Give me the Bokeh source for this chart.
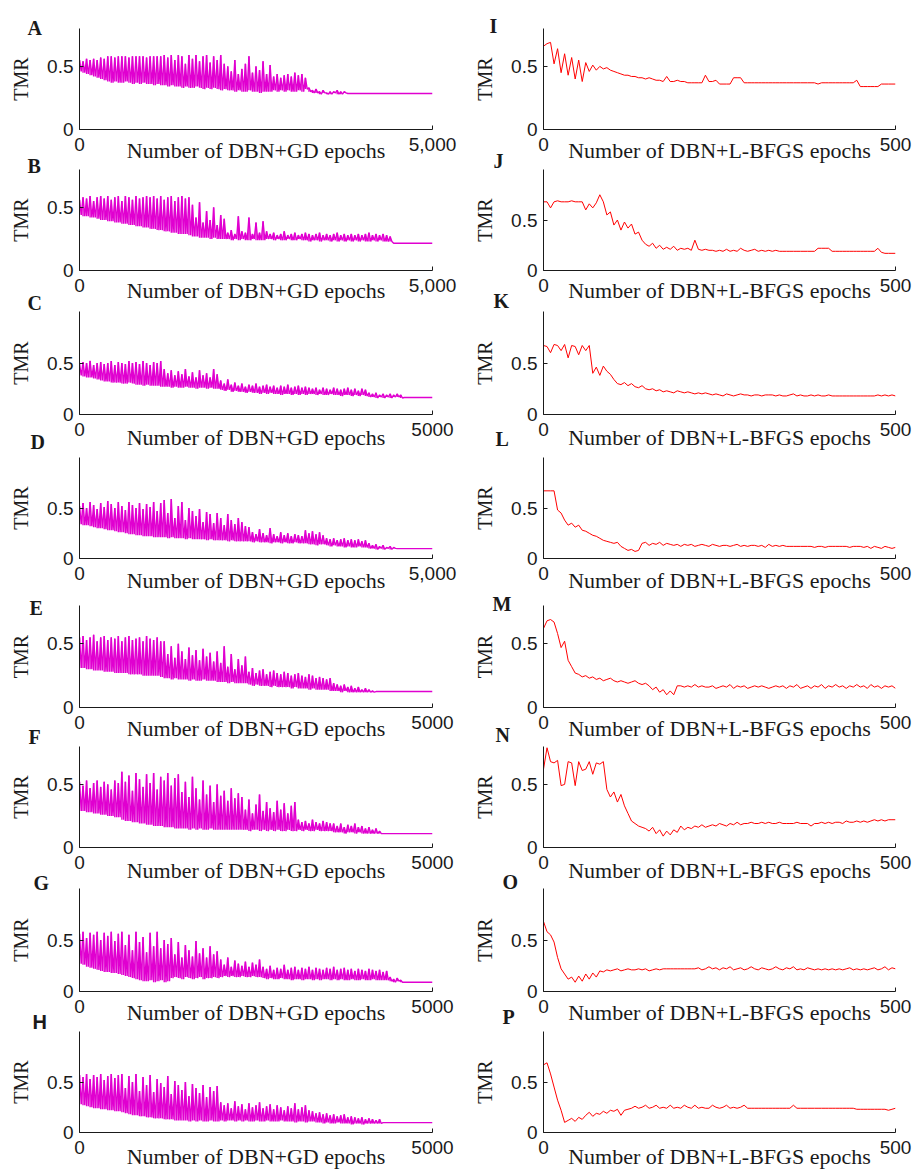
from bokeh.plotting import figure
from bokeh.layouts import column, row
from bokeh.models import FixedTicker, Range1d, NumeralTickFormatter
from bokeh.embed import file_html
from bokeh.resources import INLINE

# ---------------- data ----------------
GD_MAX = 5000       # epochs, left column (DBN+GD)
LB_MAX = 500        # epochs, right column (DBN+L-BFGS)
GD_STEP = 50        # epochs between successive (high, low) readings
LB_STEP = 5         # epochs between successive readings

# ---- DBN+GD panels: upper / lower values of the oscillation, then the converged value
A_hi = [.55,.54,.56,.55,.56,.55,.57,.56,
        .58,.58,.57,.58,.58,.58,.57,.58,.58,.58,.58,.57,.58,.58,.58,.58,
        .59,.57,.59,.55,.59,.58,.52,.59,.56,.59,.54,.58,.59,.53,.58,.55,.59,.52,
        .50,.46,.55,.44,.48,.52,.58,.45,.50,.47,.54,.44,.51,
        .42,.44,.41,.43,.44,.42,.45,.43,.44,.41,
        .33,.31,.32,.30,.31,.29,.30,.30,.31,.30,.30]
A_lo = [.46,.45,.44,.43,.42,.41,.40,.39,
        .38,.37,.38,.37,.37,.38,.37,.36,.37,.36,.37,.36,.36,.35,.36,.35,
        .35,.34,.35,.34,.34,.33,.34,.33,.33,.34,.33,.32,.33,.32,.33,.32,.31,.32,
        .31,.31,.30,.31,.30,.30,.31,.30,.30,.29,.30,.30,.30,
        .31,.30,.31,.30,.31,.30,.30,.31,.30,.32,
        .30,.29,.29,.28,.29,.28,.28,.29,.28,.28,.29]
A_flat = .285

B_hi = [.56,.58,.57,.59,.55,.58,.59,.57,.59,.56,.58,.59,.55,.59,.58,.56,.59,.57,.58,.59,
        .58,.59,.57,.59,.56,.58,.59,.55,.58,.59,.57,.58,
        .52,.42,.54,.38,.47,.40,.50,.36,.44,.41,
        .30,.32,.29,.43,.31,.30,.42,.29,.38,.30,.39,.31,
        .29,.30,.28,.29,.31,.28,.29,.30,.28,.29,.30,.29,.28,.29,.30,.28,.29,.28,
        .29,.30,.28,.29,.28,.29,.28,.29,.28,.29,.30,.28,.29,.28,.29,.28,.27]
B_lo = [.44,.43,.43,.42,.42,.41,.40,.40,.39,.39,.38,.38,.37,.37,.36,.36,.35,.35,.34,.34,
        .33,.33,.32,.32,.31,.31,.30,.30,.29,.29,.29,.28,
        .27,.27,.26,.26,.26,.25,.26,.25,.25,.25,
        .25,.24,.25,.24,.25,.24,.24,.25,.24,.24,.24,.25,
        .25,.24,.25,.24,.24,.25,.24,.24,.25,.24,.24,.23,.24,.24,.23,.24,.24,.23,
        .24,.23,.24,.23,.24,.23,.24,.23,.24,.23,.23,.24,.23,.24,.23,.23,.23]
B_flat = .216

C_hi = [.49,.51,.50,.52,.48,.50,.51,.49,.50,.52,.48,.51,.50,.49,.52,.50,.51,.49,.52,.50,.48,.51,.50,.52,
        .44,.40,.43,.38,.42,.39,.44,.37,.41,.36,.43,.38,.40,.36,.44,.39,
        .33,.30,.34,.29,.31,.28,.30,.27,.29,.28,.30,.27,.28,.29,.27,.28,.26,.28,.27,.29,.26,.27,.28,.26,.27,.26,
        .25,.26,.24,.26,.25,.24,.26,.25,.24,.25,.26,.24,.25,.23,.25,.24,
        .21,.20,.21,.19,.20,.19,.20,.19,.20,.19]
C_lo = [.38,.37,.36,.36,.35,.34,.33,.32,.32,.31,.31,.31,.30,.30,.31,.30,.29,.29,.28,.29,.28,.28,.28,.27,
        .27,.27,.26,.27,.26,.26,.27,.26,.26,.25,.26,.26,.25,.26,.25,.25,
        .24,.23,.24,.22,.23,.22,.22,.21,.22,.21,.21,.20,.21,.20,.21,.20,.20,.19,.20,.20,.19,.20,.19,.20,.19,.20,
        .20,.19,.20,.19,.19,.20,.19,.19,.18,.19,.19,.18,.19,.18,.19,.18,
        .17,.17,.16,.17,.16,.17,.16,.17,.17,.16]
C_flat = .165

D_hi = [.52,.55,.50,.56,.53,.49,.55,.51,.57,.54,.50,.56,.52,.48,.56,.53,.50,.55,.49,.54,.51,.56,.47,.55,
        .58,.45,.59,.40,.52,.56,.38,.50,.47,.42,.49,.36,.46,.44,.35,.45,.40,.33,.44,.38,.34,.40,.36,.32,
        .31,.26,.24,.29,.25,.23,.30,.24,.22,.26,.23,.25,.22,.24,.23,.22,
        .28,.25,.27,.24,.26,.23,
        .20,.19,.20,.18,.19,.20,.18,.19,.18,.19,.17,.18,
        .15,.13,.14,.12,.13,.11,.12,.11]
D_lo = [.34,.33,.33,.32,.31,.30,.30,.29,.28,.28,.27,.26,.26,.25,.24,.24,.23,.23,.22,.22,.22,.21,.21,.21,
        .21,.20,.21,.20,.20,.20,.19,.20,.19,.19,.19,.19,.18,.19,.18,.18,.18,.18,.17,.18,.17,.17,.17,.17,
        .17,.16,.17,.16,.16,.16,.15,.16,.16,.15,.16,.15,.15,.16,.15,.15,
        .15,.14,.14,.13,.14,.14,
        .13,.12,.13,.12,.12,.11,.12,.11,.11,.12,.11,.11,
        .10,.10,.09,.10,.09,.10,.09,.10]
D_flat = .098

E_hi = [.55,.56,.53,.55,.57,.52,.55,.56,.53,.55,.54,.56,.52,.55,.56,.53,.54,.55,.52,.56,.54,.53,.55,.52,
        .52,.42,.48,.39,.50,.44,.38,.47,.41,.45,.37,.46,.40,.43,.36,.44,
        .35,.48,.32,.42,.30,.38,.33,.40,
        .28,.31,.27,.29,.30,.26,.28,.29,.27,.26,.28,.27,.25,.26,.27,.25,.24,.26,.25,.23,.24,.23,.22,.23,
        .19,.18,.17,.18,.16,.17,.15,.16,.14,.15,.14,.13]
E_lo = [.31,.31,.30,.30,.29,.29,.29,.28,.28,.28,.27,.27,.27,.27,.26,.26,.26,.26,.25,.25,.25,.25,.25,.24,
        .23,.23,.22,.23,.22,.22,.22,.21,.22,.21,.21,.22,.21,.21,.21,.20,
        .20,.20,.19,.20,.19,.19,.19,.19,
        .18,.17,.18,.17,.17,.17,.16,.17,.16,.16,.16,.16,.15,.16,.15,.15,.15,.14,.15,.14,.14,.14,.14,.13,
        .13,.13,.12,.13,.12,.12,.12,.12,.12,.12,.12,.12]
E_flat = .125

F_hi = [.52,.49,.53,.47,.51,.53,.48,.52,.50,.46,.53,.51,
        .60,.52,.57,.45,.59,.54,.48,.58,.51,.59,.46,.56,.53,.59,.49,.55,
        .58,.44,.52,.40,.56,.47,.38,.53,.42,.49,.36,.50,.41,.45,.37,.47,.39,.43,
        .40,.30,.38,.27,.34,.42,.29,.36,.31,.28,.37,.30,.35,.27,.33,.36,
        .22,.20,.21,.19,.22,.20,.19,.21,.20,.19,
        .19,.17,.19,.16,.18,.17,.19,.16,.17,.15,.16,.14,.15,.13]
F_lo = [.29,.29,.28,.28,.27,.27,.26,.26,.25,.25,.24,.24,
        .22,.21,.21,.20,.20,.19,.19,.18,.18,.17,.17,.17,.16,.16,.16,.15,
        .15,.15,.15,.14,.15,.14,.15,.14,.14,.15,.14,.14,.14,.14,.14,.14,.14,.14,
        .14,.14,.13,.14,.14,.13,.14,.13,.14,.13,.14,.13,.13,.14,.13,.13,
        .14,.13,.14,.13,.13,.14,.13,.13,.13,.13,
        .12,.12,.12,.11,.12,.12,.11,.12,.11,.11,.11,.11,.11,.11]
F_flat = .11

G_hi = [.56,.58,.52,.57,.55,.58,.50,.57,.54,.58,.49,.56,
        .58,.45,.55,.40,.58,.48,.53,.38,.57,.44,.58,.42,.50,.46,
        .52,.36,.48,.33,.45,.40,.34,.49,.37,.42,.33,.44,.36,.39,
        .31,.26,.33,.24,.30,.27,.25,.29,.24,.28,.26,.31,
        .24,.22,.25,.21,.23,.22,.26,.21,.23,.24,.21,.23,.22,.24,.21,.23,.22,.21,
        .23,.22,.24,.21,.22,.23,.21,.22,.20,.22,.21,.20,.22,.21,.20,.21,.19,.20,
        .14,.12,.13,.11]
G_lo = [.27,.26,.24,.23,.22,.21,.20,.19,.19,.18,.18,.17,
        .16,.15,.14,.13,.12,.11,.10,.10,.11,.09,.10,.11,.09,.10,
        .13,.14,.13,.12,.14,.13,.12,.13,.14,.12,.13,.13,.14,.13,
        .14,.15,.14,.15,.14,.14,.15,.14,.14,.15,.14,.14,
        .13,.12,.13,.12,.12,.13,.12,.12,.11,.12,.12,.11,.12,.12,.11,.12,.11,.12,
        .12,.11,.12,.11,.12,.11,.11,.12,.11,.11,.12,.11,.11,.12,.11,.11,.11,.11,
        .10,.09,.10,.09]
G_flat = .09

H_hi = [.57,.55,.58,.53,.57,.55,.58,.52,.56,.58,.54,.57,
        .58,.44,.56,.50,.58,.41,.55,.47,.57,.40,.53,.49,.45,.56,.38,.51,.47,.42,.50,.36,.48,.44,.39,.47,.35,.45,.41,.46,
        .30,.27,.29,.24,.31,.26,.28,.23,.29,.25,.27,.30,.24,.26,.28,.23,.27,.25,.22,.26,.24,.29,.23,.25,.27,.22,
        .21,.19,.20,.18,.19,.17,.18,.16,.17,.18,.15,.16,.15,.14,.15,.13,.14,.13,.12,.13]
H_lo = [.28,.27,.26,.25,.24,.24,.23,.23,.22,.22,.21,.21,
        .20,.19,.18,.17,.17,.16,.16,.15,.15,.14,.14,.14,.13,.13,.13,.12,.12,.12,.12,.11,.12,.11,.12,.11,.11,.12,.11,.11,
        .12,.11,.12,.12,.11,.12,.11,.12,.11,.11,.12,.11,.11,.12,.11,.11,.11,.12,.11,.11,.11,.10,.11,.11,.10,.11,
        .11,.10,.10,.09,.10,.09,.09,.10,.09,.09,.09,.08,.09,.09,.08,.09,.09,.09,.09,.09]
H_flat = .098

# ---- DBN+L-BFGS panels: TMR every 5 epochs (0..500)
I_y = [.66,.68,.69,.52,.64,.45,.60,.43,.57,.40,
       .55,.38,.53,.46,.51,.47,.50,.48,.49,.47,
       .46,.45,.44,.43,.43,.42,.42,.41,.41,.40,
       .41,.40,.39,.39,.38,.42,.38,.38,.39,.38,
       .38,.37,.37,.37,.37,.37,.43,.38,.38,.39,
       .36,.36,.36,.36,.41,.41,.41,.37,.37,.37,
       .37,.37,.37,.37,.37,.37,.37,.37,.37,.37,
       .37,.37,.37,.37,.37,.37,.37,.37,.36,.37,
       .37,.37,.37,.37,.37,.37,.37,.37,.37,.39,
       .34,.34,.34,.34,.34,.34,.36,.36,.36,.36,
       .36]
J_y = [.68,.68,.62,.68,.69,.68,.68,.68,.69,.68,
       .68,.68,.60,.66,.62,.67,.75,.68,.55,.58,
       .45,.50,.40,.48,.42,.46,.36,.38,.30,.26,
       .24,.27,.22,.25,.21,.23,.21,.24,.20,.22,
       .21,.22,.20,.30,.21,.20,.21,.20,.20,.19,
       .20,.19,.21,.19,.20,.19,.22,.20,.19,.20,
       .21,.19,.20,.19,.20,.19,.20,.19,.19,.19,
       .19,.19,.19,.19,.19,.19,.19,.19,.22,.22,
       .22,.22,.19,.19,.19,.19,.19,.19,.19,.19,
       .19,.19,.19,.19,.19,.22,.18,.17,.17,.17,
       .17]
K_y = [.67,.66,.60,.68,.67,.62,.68,.55,.67,.66,
       .58,.67,.62,.67,.40,.46,.38,.47,.42,.39,
       .34,.30,.29,.31,.28,.30,.27,.26,.28,.25,
       .24,.25,.23,.24,.22,.23,.22,.21,.23,.22,
       .21,.22,.21,.20,.21,.20,.21,.20,.19,.20,
       .19,.18,.20,.19,.18,.19,.20,.19,.19,.18,
       .19,.19,.18,.19,.19,.19,.18,.19,.18,.18,
       .19,.20,.18,.19,.18,.18,.19,.18,.19,.18,
       .18,.19,.18,.18,.18,.18,.18,.18,.18,.18,
       .18,.18,.18,.18,.18,.19,.18,.19,.18,.19,
       .18]
L_y = [.67,.67,.67,.67,.48,.45,.38,.33,.35,.31,
       .33,.28,.27,.25,.23,.22,.20,.18,.17,.16,
       .15,.16,.12,.10,.08,.09,.07,.08,.15,.16,
       .13,.15,.14,.16,.13,.15,.14,.13,.14,.12,
       .14,.13,.14,.12,.13,.14,.13,.12,.14,.13,
       .12,.13,.13,.12,.13,.14,.12,.13,.12,.13,
       .13,.12,.13,.11,.14,.12,.13,.12,.13,.12,
       .12,.12,.12,.12,.12,.12,.12,.11,.12,.12,
       .11,.12,.12,.12,.12,.12,.12,.11,.12,.12,
       .12,.11,.12,.10,.12,.11,.10,.12,.11,.10,
       .11]
M_y = [.62,.68,.69,.67,.58,.47,.52,.37,.32,.27,
       .26,.24,.25,.23,.24,.22,.23,.21,.22,.23,
       .21,.20,.21,.20,.19,.20,.21,.19,.18,.19,
       .17,.14,.16,.12,.14,.10,.13,.10,.17,.17,
       .16,.17,.16,.18,.16,.17,.16,.16,.17,.15,
       .16,.17,.16,.18,.15,.17,.16,.17,.15,.16,
       .17,.16,.17,.16,.15,.16,.17,.16,.17,.15,
       .17,.16,.18,.15,.16,.17,.15,.17,.16,.18,
       .15,.17,.16,.18,.16,.17,.15,.17,.16,.18,
       .16,.17,.15,.18,.16,.17,.15,.17,.16,.17,
       .15]
N_y = [.62,.79,.68,.67,.69,.49,.50,.68,.67,.49,
       .68,.61,.62,.68,.58,.67,.66,.68,.46,.40,
       .44,.36,.42,.33,.27,.21,.19,.17,.16,.15,
       .13,.16,.11,.14,.09,.13,.10,.14,.12,.17,
       .14,.16,.15,.17,.16,.18,.16,.17,.18,.17,
       .19,.18,.17,.19,.18,.20,.18,.19,.19,.20,
       .19,.19,.20,.19,.20,.19,.19,.20,.19,.19,
       .19,.19,.20,.19,.19,.19,.17,.19,.19,.20,
       .19,.20,.19,.20,.20,.19,.21,.20,.20,.21,
       .20,.21,.20,.21,.22,.21,.22,.21,.22,.22,
       .22]
O_y = [.68,.58,.55,.48,.33,.22,.17,.12,.14,.09,
       .15,.10,.17,.12,.18,.14,.20,.19,.21,.20,
       .21,.22,.20,.21,.22,.21,.21,.22,.21,.22,
       .20,.21,.22,.21,.22,.22,.22,.22,.22,.22,
       .22,.22,.22,.22,.23,.21,.22,.24,.22,.23,
       .21,.23,.22,.24,.21,.22,.23,.21,.22,.24,
       .22,.21,.23,.22,.21,.22,.24,.22,.21,.23,
       .22,.24,.21,.22,.21,.23,.22,.21,.22,.21,
       .22,.21,.22,.21,.22,.21,.22,.23,.21,.22,
       .21,.22,.21,.22,.23,.21,.22,.24,.21,.23,
       .22]
P_y = [.67,.69,.58,.45,.32,.22,.10,.12,.14,.11,
       .15,.13,.17,.20,.16,.19,.18,.21,.19,.22,
       .21,.23,.17,.22,.23,.24,.26,.24,.25,.27,
       .24,.25,.27,.24,.25,.24,.27,.24,.25,.24,
       .27,.25,.24,.27,.24,.25,.24,.24,.27,.25,
       .24,.25,.27,.24,.25,.24,.25,.27,.24,.24,
       .24,.24,.24,.24,.24,.24,.24,.24,.24,.24,
       .24,.27,.24,.24,.24,.24,.24,.24,.24,.24,
       .24,.24,.24,.24,.24,.24,.24,.24,.24,.23,
       .23,.23,.23,.23,.23,.23,.23,.23,.22,.23,
       .24]

LEFT_LETTERS = ["A", "B", "C", "D", "E", "F", "G", "H"]
RIGHT_LETTERS = ["I", "J", "K", "L", "M", "N", "O", "P"]
LEFT_DATA = [(A_hi, A_lo, A_flat), (B_hi, B_lo, B_flat), (C_hi, C_lo, C_flat), (D_hi, D_lo, D_flat),
             (E_hi, E_lo, E_flat), (F_hi, F_lo, F_flat), (G_hi, G_lo, G_flat), (H_hi, H_lo, H_flat)]
RIGHT_DATA = [I_y, J_y, K_y, L_y, M_y, N_y, O_y, P_y]
LEFT_YMAX = [0.8, 0.8, 1.0, 1.0, 0.8, 0.8, 1.0, 1.0]
RIGHT_YMAX = [0.8, 1.0, 1.0, 1.0, 0.8, 0.8, 1.0, 1.0]
LEFT_END_LABEL_COMMA = [True, True, False, True, False, False, False, False]
GD_XLABEL = "Number of DBN+GD epochs"
LB_XLABEL = "Number of DBN+L-BFGS epochs"
Y_TICKS = [0, 0.5]

# ---------------- layout constants (page pixels) ----------------
FRAME_TOP = [28, 169, 311, 457, 605, 746, 888, 1031]
FRAME_H = [101, 101, 103, 101, 102, 101, 103, 101]
# letter placement: (left edge relative to frame left, title standoff)
LEFT_LETTER_POS = [(-52, -20), (-52, -14), (-52, -4), (-49, 10), (-50, -26), (-51, -2), (-46, -10), (-47, -2)]
RIGHT_LETTER_POS = [(-54, -16), (-50, -4), (-50, 0), (-48, 16), (-51, -18), (-48, 2), (-41, -8), (-41, 8)]
XLABEL_CENTER = [21, 20, 23, 22, 21, 23, 21, 24]   # px below frame
MAGENTA = "#E000D0"
RED = "#FF0000"
INK = "#1a1a1a"


def gd_series(hi, lo, flat):
    xs, ys = [], []
    for k, (h, l) in enumerate(zip(hi, lo)):
        xs += [k * GD_STEP, k * GD_STEP + GD_STEP // 2]
        ys += [h, l]
    end = min(len(hi), len(lo)) * GD_STEP
    xs += [end, GD_MAX]
    ys += [flat, flat]
    return xs, ys


def make_panel(letter, xmax, xlabel, xfmt, ymax, fh, tb, bb,
               left_side, lpos, xlabel_center, letter_font):
    p = figure(frame_width=353 if left_side else 352, frame_height=fh,
               x_range=Range1d(0, xmax), y_range=Range1d(0, ymax),
               output_backend="svg", toolbar_location=None,
               min_border_left=79 if left_side else 81,
               min_border_right=30 if left_side else 17,
               min_border_top=tb, min_border_bottom=bb)
    p.background_fill_color = None
    p.border_fill_color = None
    p.outline_line_color = None
    p.xgrid.visible = False
    p.ygrid.visible = False

    for ax in (p.xaxis[0], p.yaxis[0]):
        ax.axis_line_color = INK
        ax.axis_line_width = 1
        ax.major_tick_line_color = INK
        ax.major_tick_in = 4
        ax.major_tick_out = 0
        ax.minor_tick_line_color = None
        ax.major_label_text_font = "Liberation Sans"
        ax.major_label_text_font_size = "19px"
        ax.major_label_text_color = INK
        ax.axis_label_text_font = "Liberation Serif"
        ax.axis_label_text_font_style = "normal"
        ax.axis_label_text_color = INK

    xa = p.xaxis[0]
    xa.ticker = FixedTicker(ticks=[0, xmax])
    xa.formatter = NumeralTickFormatter(format=xfmt)
    xa.axis_label = xlabel
    xa.axis_label_text_font_size = "22px"
    xa.major_label_standoff = 8
    xa.axis_label_standoff = xlabel_center - 37

    ya = p.yaxis[0]
    ya.ticker = FixedTicker(ticks=Y_TICKS)
    ya.formatter = NumeralTickFormatter(format="0.[0]")
    ya.axis_label = "TMR"
    ya.axis_label_text_font_size = "20px"
    ya.major_label_standoff = 6
    ya.axis_label_standoff = 12

    p.title.text = letter
    p.title.align = "left"
    p.title.offset = lpos[0]
    p.title.standoff = lpos[1]
    p.title.vertical_align = "bottom"
    p.title.text_font = letter_font
    p.title.text_font_style = "bold"
    p.title.text_font_size = "20px"
    p.title.text_color = INK
    return p


rows = []
prev_bottom = 0
for i in range(8):
    tb = 28 if i == 0 else 40
    bb = 38 if i == 7 else 45
    fh = FRAME_H[i]

    hi, lo, flat = LEFT_DATA[i]
    left = make_panel(LEFT_LETTERS[i], GD_MAX, GD_XLABEL,
                      "0,0" if LEFT_END_LABEL_COMMA[i] else "0",
                      LEFT_YMAX[i], fh, tb, bb, True, LEFT_LETTER_POS[i], XLABEL_CENTER[i],
                      "Liberation Sans" if LEFT_LETTERS[i] == "H" else "Liberation Serif")
    gx, gy = gd_series(hi, lo, flat)
    left.line(gx, gy, line_color=MAGENTA, line_width=1.4)
    n = min(len(hi), len(lo))
    seg_x = [k * GD_STEP for k in range(n)]
    left.segment(x0=seg_x, y0=lo[:n], x1=seg_x, y1=hi[:n],
                 line_color=MAGENTA, line_width=1.4)

    ry = RIGHT_DATA[i]
    rx = [k * LB_STEP for k in range(len(ry))]
    right = make_panel(RIGHT_LETTERS[i], LB_MAX, LB_XLABEL, "0",
                       RIGHT_YMAX[i], fh, tb, bb, False, RIGHT_LETTER_POS[i], XLABEL_CENTER[i],
                       "Liberation Serif")
    right.line(rx, ry, line_color=RED, line_width=1)

    page_top = FRAME_TOP[i] - tb
    margin_top = page_top - prev_bottom
    prev_bottom = page_top + tb + fh + bb
    rows.append(row(left, right, margin=(margin_top, 0, 0, 0)))

layout = column(*rows)
open("out.html", "w").write(file_html(layout, INLINE))
